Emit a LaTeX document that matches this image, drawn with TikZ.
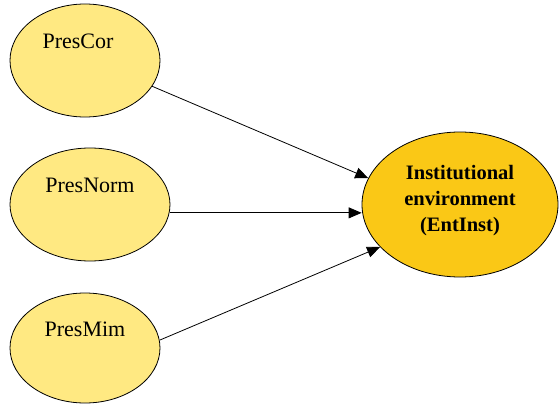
\documentclass[tikz,border=0pt]{standalone}
\usepackage{fontspec}
\setmainfont{Liberation Serif}
\usepackage{xcolor}
\usepackage{tikz}
\usetikzlibrary{shapes.geometric, arrows.meta, positioning}

\definecolor{presyellow}{RGB}{255,233,130}
\definecolor{instgold}{RGB}{250,200,22}

\begin{document}
\begin{tikzpicture}[x=1pt, y=-1pt,
                pres/.style={ellipse, draw=black, line width=0.8pt, fill=presyellow, inner sep=0pt, minimum width=150pt, minimum height=113pt},
                prestext/.style={font=\fontsize{22}{26}\selectfont, yshift=19pt},
                inst/.style={ellipse, draw=black, line width=0.8pt, fill=instgold, inner sep=0pt, minimum width=196pt, minimum height=145pt, align=center, font=\fontsize{20.5}{26}\selectfont\bfseries},
                arrow/.style={-{Triangle[length=13pt, width=11pt]}, line width=0.8pt}
            ]
                \useasboundingbox (0,0) rectangle (560,404);

                \node (cor) [pres, label={[prestext, xshift=-7pt]center:PresCor}] at (85,60.5) {};
                \node (norm) [pres, minimum width=160pt, label={[prestext]center:PresNorm}] at (90,204.5) {};
                \node (mim) [pres, minimum height=110pt, label={[prestext]center:PresMim}] at (85,348) {};
                % text sits a little above the middle
                \node (env) [inst] at (460,204.5) {Institutional\\environment\\(EntInst)\\[-14pt]\mbox{}};

                \draw [arrow] (cor.-21) -- (env.164);
                \draw [arrow] (norm.-6) -- (norm.-6 -| env.west);
                \draw [arrow] (mim.6) -- (env.208);
            \end{tikzpicture}
\end{document}
